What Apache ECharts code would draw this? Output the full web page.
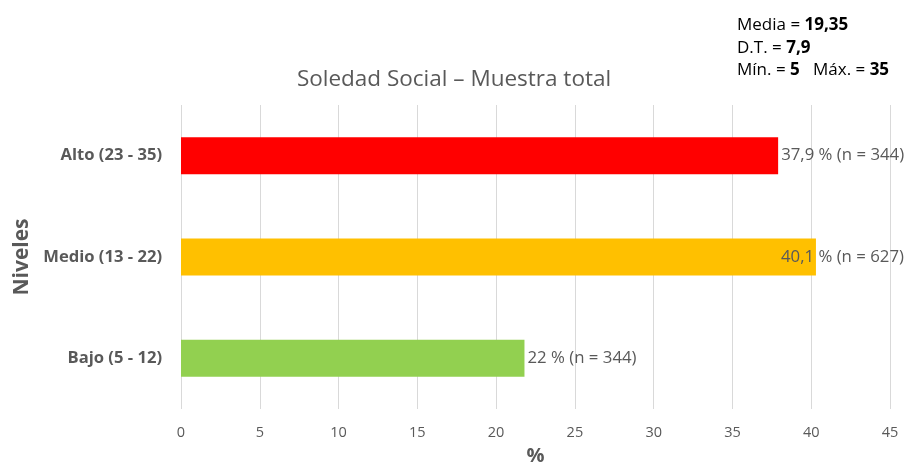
<!DOCTYPE html>
<html><head><meta charset="utf-8">
<script src="https://cdn.jsdelivr.net/npm/echarts@6/dist/echarts.min.js"></script>
<style>html,body{margin:0;padding:0;background:#fff}#c{width:908px;height:471px}</style>
</head><body><div id="c"></div>
<script>
const categories = ['Bajo (5 - 12)', 'Medio (13 - 22)', 'Alto (23 - 35)'];
const values = [21.8, 40.3, 37.9];
const labels = ['22 % (n = 344)', '40,1 % (n = 627)', '37,9 % (n = 344)'];
const colors = ['#92D050', '#FFC000', '#FF0000'];
const xTicks = [0, 45, 5];
const FONT = 'Open Sans';

const chart = echarts.init(document.getElementById('c'), null, {renderer: 'canvas'});
chart.setOption({
  animation: false,
  title: {
    text: 'Soledad Social \u2013 Muestra total',
    left: 'center', top: 63,
    textStyle: {fontFamily: FONT, fontSize: 22.5, fontWeight: 'normal', color: '#595959'}
  },
  graphic: [{
    type: 'text', left: 737, top: 14,
    style: {
      text: 'Media = {b|19,35}\nD.T. = {b|7,9}\nMín. = {b|5}   Máx. = {b|35}',
      fontFamily: FONT, fontSize: 17, fill: '#000', lineHeight: 22.5,
      rich: {b: {fontFamily: FONT, fontSize: 17, fontWeight: 'bold', fill: '#000', lineHeight: 22.5}}
    }
  }],
  grid: {left: 181, right: 18, top: 105, bottom: 58, containLabel: false},
  xAxis: {
    type: 'value', min: xTicks[0], max: xTicks[1], interval: xTicks[2],
    name: '%', nameLocation: 'middle', nameGap: 37,
    nameTextStyle: {fontFamily: FONT, fontSize: 20, fontWeight: 'bold', color: '#595959'},
    axisLine: {show: false}, axisTick: {show: false},
    axisLabel: {fontFamily: FONT, fontSize: 14.5, color: '#595959', margin: 16},
    splitLine: {show: true, lineStyle: {color: '#D9D9D9', width: 1}}
  },
  yAxis: {
    type: 'category', data: categories,
    name: 'Niveles', nameLocation: 'middle', nameGap: 148,
    nameTextStyle: {fontFamily: FONT, fontSize: 21, fontWeight: 'bold', color: '#595959'},
    axisLine: {show: false}, axisTick: {show: false},
    axisLabel: {fontFamily: FONT, fontSize: 16.6, fontWeight: 'bold', color: '#595959', margin: 19},
    splitLine: {show: false}
  },
  series: [{
    type: 'bar', barWidth: 37,
    data: values.map((v, i) => ({
      value: v,
      itemStyle: {color: colors[i]},
      label: {
        show: true, position: 'right', distance: 3,
        offset: i === 1 ? [-38, 0] : [0, 0],
        formatter: () => labels[i],
        fontFamily: FONT, fontSize: 16.8, color: '#595959'
      }
    }))
  }]
});
</script></body></html>
